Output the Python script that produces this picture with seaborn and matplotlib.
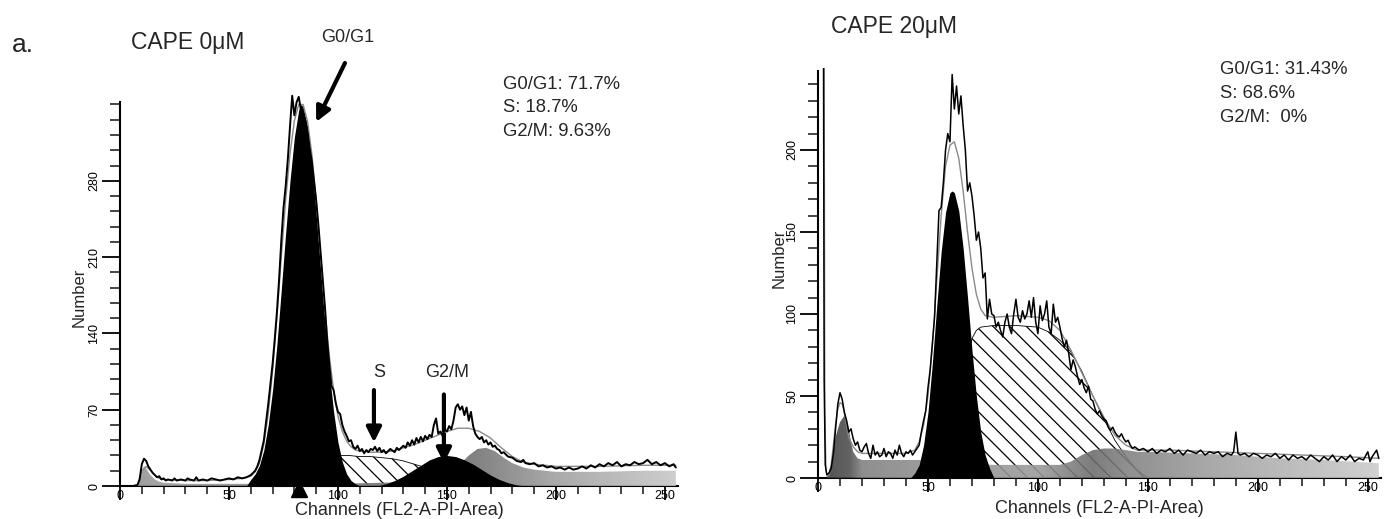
import numpy as np
import pandas as pd
import matplotlib
matplotlib.use("Agg")
import matplotlib.pyplot as plt
import seaborn as sns
from matplotlib.ticker import FixedLocator

# ---------------- data (channel, count) ----------------
left_observed = [(0,0),(2,0),(4,0),(6,0),(8,1),(9,6),(10,20),(11,25),(12,23),(13,18),(14,15),(15,12),(16,10),(17,8),(18,9),(19,6),(20,7),(21,5),(22,6),(24,5),(25,7),(26,5),(28,6),(30,5),(31,7),(32,6),(34,5),(35,8),(36,5),(38,6),(40,5),(42,7),(44,6),(46,5),(48,6),(50,7),(52,6),(54,8),(56,7),(58,8),(60,10),(62,14),(63,18),(64,24),(66,42),(68,75),(70,112),(71,135),(72,160),(73,190),(74,225),(75,255),(76,275),(77,300),(78,330),(79,358),(80,340),(81,352),(82,357),(83,345),(84,340),(85,335),(86,325),(87,310),(88,298),(89,280),(90,262),(91,240),(92,215),(93,190),(94,165),(95,135),(96,112),(97,92),(98,88),(99,76),(100,68),(101,66),(102,56),(103,50),(104,46),(105,41),(106,42),(107,36),(108,34),(109,37),(110,32),(111,34),(112,30),(113,33),(114,31),(115,34),(116,33),(117,36),(118,32),(119,35),(120,31),(121,33),(122,30),(124,34),(126,31),(127,35),(128,33),(130,37),(131,35),(132,40),(133,37),(134,42),(135,38),(136,44),(137,40),(138,45),(139,41),(140,46),(141,43),(142,47),(143,45),(144,56),(145,62),(146,48),(147,50),(148,46),(149,52),(150,50),(151,55),(152,52),(153,60),(154,72),(155,75),(156,70),(157,73),(158,65),(159,72),(160,60),(161,68),(162,55),(163,48),(164,45),(165,43),(166,45),(167,40),(168,42),(169,38),(170,40),(171,36),(172,37),(173,34),(174,33),(175,30),(176,31),(178,27),(180,26),(182,23),(184,22),(185,24),(186,21),(188,20),(190,21),(192,18),(194,19),(196,17),(198,18),(200,16),(202,17),(204,15),(206,17),(208,15),(210,16),(212,18),(214,16),(216,19),(218,17),(220,20),(222,18),(224,21),(226,19),(228,22),(230,18),(232,20),(234,19),(236,22),(238,20),(240,21),(242,24),(244,20),(246,22),(248,19),(250,21),(252,18),(254,20),(255,17)]
left_fit = [(8,0),(10,14),(12,18),(14,14),(16,10),(18,7),(20,6),(30,5),(40,5),(50,6),(56,7),(60,9),(62,13),(64,21),(66,38),(68,66),(70,105),(72,155),(74,210),(76,262),(78,305),(80,335),(82,350),(84,350),(86,335),(88,305),(90,262),(92,212),(94,162),(96,120),(98,88),(100,64),(102,50),(104,41),(106,36),(108,33),(110,32),(115,31),(120,31),(125,32),(130,35),(135,38),(140,42),(145,46),(150,50),(155,53),(160,53),(165,50),(170,44),(175,35),(180,27),(185,22),(190,20),(200,18),(220,18),(240,19),(255,19)]
left_g1 = [(58,0),(60,6),(62,11),(64,19),(66,33),(68,56),(70,88),(72,130),(74,180),(76,232),(78,280),(80,320),(82,345),(83,350),(84,348),(86,330),(88,295),(90,250),(92,200),(94,150),(96,105),(98,68),(100,40),(102,22),(104,11),(106,5),(108,2),(110,0)]
left_s = [(84,0),(88,15),(92,24),(96,27),(100,28),(105,28),(110,27),(115,27),(120,26),(125,25),(130,23),(135,20),(140,17),(145,13),(150,9),(155,6),(160,3),(165,0)]
left_g2 = [(118,0),(122,2),(126,5),(130,9),(134,14),(138,19),(142,24),(146,27),(150,28),(154,27),(158,24),(162,20),(166,15),(170,10),(174,6),(178,3),(182,1),(186,0)]
left_debris = [(8,0),(9,4),(10,12),(11,18),(12,16),(14,10),(16,6),(18,4),(20,3),(30,2),(60,2),(100,2),(140,4),(150,10),(155,18),(160,28),(164,34),(168,35),(172,32),(176,26),(180,21),(185,17),(190,15),(200,13),(220,13),(240,14),(255,14)]

right_observed = [(2.3,400),(2.8,60),(3.3,8),(4,2),(5,3),(6,6),(7,15),(8,30),(9,45),(10,52),(11,48),(12,40),(13,35),(14,28),(15,30),(16,24),(17,20),(18,22),(19,17),(20,16),(21,19),(22,21),(23,15),(24,12),(25,20),(26,14),(27,16),(28,13),(29,14),(30,18),(31,13),(32,16),(33,15),(34,12),(35,17),(36,14),(37,20),(38,15),(39,13),(40,16),(41,15),(42,17),(43,14),(44,16),(45,18),(46,20),(47,28),(48,35),(49,41),(50,55),(51,66),(52,82),(53,98),(54,130),(55,163),(56,165),(57,180),(58,200),(59,210),(60,205),(61,246),(62,225),(63,239),(64,222),(65,233),(66,215),(67,200),(68,175),(69,180),(70,172),(71,160),(72,145),(73,150),(74,140),(75,122),(76,125),(77,97),(78,109),(79,100),(80,99),(81,92),(82,95),(83,90),(84,86),(85,95),(86,100),(87,92),(88,88),(89,100),(90,109),(91,98),(92,95),(93,102),(94,97),(95,100),(96,108),(97,98),(98,110),(99,95),(100,88),(101,105),(102,96),(103,100),(104,108),(105,92),(106,88),(107,106),(108,95),(109,98),(110,92),(111,85),(112,80),(113,84),(114,76),(115,66),(116,72),(117,68),(118,62),(119,57),(120,60),(121,55),(122,52),(123,56),(124,48),(125,47),(126,42),(127,39),(128,41),(129,38),(130,36),(131,35),(132,31),(133,29),(134,31),(135,28),(136,26),(137,25),(138,27),(139,24),(140,22),(141,23),(142,20),(143,18),(144,19),(146,17),(148,18),(150,16),(152,18),(154,15),(156,17),(158,16),(160,18),(162,15),(164,17),(166,14),(168,17),(170,16),(172,15),(174,17),(176,14),(178,16),(180,15),(182,16),(184,13),(186,15),(188,14),(189,16),(190,28),(191,15),(192,14),(194,15),(196,13),(198,15),(200,14),(202,12),(204,14),(206,13),(208,15),(210,12),(212,14),(214,11),(216,14),(218,12),(220,13),(222,11),(224,14),(226,12),(228,10),(230,13),(232,11),(234,14),(236,10),(238,13),(240,11),(242,14),(244,10),(246,12),(248,11),(250,16),(251,10),(252,13),(254,17),(255,12)]
right_fit = [(2.6,400),(3.1,40),(3.6,5),(4.2,1),(5,2),(6,8),(7,20),(8,33),(9,42),(10,46),(11,45),(12,40),(13,32),(14,25),(16,19),(18,16),(20,15),(30,15),(40,15),(44,17),(46,22),(48,32),(50,50),(52,80),(54,120),(56,160),(58,190),(60,203),(62,205),(64,195),(66,175),(68,150),(70,128),(72,112),(74,103),(76,99),(80,98),(90,99),(100,98),(105,96),(110,90),(115,78),(120,64),(125,50),(130,37),(135,26),(140,20),(145,17),(160,17),(180,16),(200,15),(220,14),(240,13),(255,12)]
right_g1 = [(42,0),(44,3),(46,8),(48,20),(50,40),(52,70),(54,105),(56,138),(58,162),(60,174),(61,175),(62,174),(64,163),(66,140),(68,110),(70,78),(72,50),(74,28),(76,14),(78,6),(80,0)]
right_s = [(60,0),(64,20),(66,45),(68,70),(70,85),(72,90),(74,92),(80,93),(90,93),(100,92),(105,89),(110,84),(115,77),(120,65),(125,50),(130,36),(135,23),(140,13),(145,5),(150,0)]
right_debris = [(4,0),(6,8),(8,25),(10,34),(12,38),(13,36),(14,30),(15,22),(16,16),(18,12),(20,11),(30,11),(40,11),(46,11),(50,10),(60,9),(80,8),(100,8),(110,8),(115,10),(120,14),(125,17),(130,18),(135,18),(140,17),(145,16),(150,16),(170,15),(190,14),(210,12),(230,11),(255,9)]

x_major = [0, 50, 100, 150, 200, 250]
left_y_major = [0, 70, 140, 210, 280]
right_y_major = [0, 50, 100, 150, 200]

titles = ["CAPE 0\u03bcM", "CAPE 20\u03bcM"]
left_stats = ["G0/G1: 71.7%", "S: 18.7%", "G2/M: 9.63%"]
right_stats = ["G0/G1: 31.43%", "S: 68.6%", "G2/M:  0%"]

# ---------------- style ----------------
sns.set_style("ticks")
plt.rcParams["font.family"] = ["Liberation Sans", "DejaVu Sans"]
plt.rcParams["hatch.linewidth"] = 0.9
plt.rcParams["hatch.color"] = "black"

W, H = 1386, 519
fig = plt.figure(figsize=(W / 100, H / 100), dpi=100)
fig.patch.set_facecolor("white")
axL = fig.add_axes([120 / W, 1 - 486 / H, 558 / W, (486 - 91.4) / H])
axR = fig.add_axes([818 / W, 1 - 478 / H, 563 / W, 410 / H])


def xy(pts):
    return [p[0] for p in pts], [p[1] for p in pts]


def gray_fill(ax, pts, stops, ymax, z):
    x, y = xy(pts)
    poly = ax.fill_between(x, 0, y, facecolor="none", edgecolor="none", zorder=z)
    xs = np.linspace(0, 256, 600)
    lv = np.interp(xs, [s[0] for s in stops], [s[1] for s in stops])
    img = np.tile(lv, (2, 1))
    im = ax.imshow(img, extent=[0, 256, 0, ymax], aspect="auto", cmap="gray",
                   vmin=0, vmax=1, origin="lower", zorder=z, alpha=0.88,
                   interpolation="bilinear")
    im.set_clip_path(poly.get_paths()[0], transform=ax.transData)


def panel(ax, obs, fit, g1, s, g2, debris, stops, ymax, ytop, y_major, y_minor, lw_obs):
    x, y = xy(s)
    ax.fill_between(x, 0, y, facecolor="white", edgecolor="black", hatch="\\\\",
                    linewidth=0.6, zorder=2)
    gray_fill(ax, debris, stops, ymax, 3)
    if g2:
        x, y = xy(g2)
        ax.fill_between(x, 0, y, color="black", linewidth=0, zorder=4)
    x, y = xy(g1)
    ax.fill_between(x, 0, y, color="black", linewidth=0, zorder=4)
    dfit = pd.DataFrame(fit, columns=["ch", "n"])
    sns.lineplot(data=dfit, x="ch", y="n", ax=ax, color="#8a8a8a", lw=1.0,
                 estimator=None, sort=False, zorder=5)
    dobs = pd.DataFrame(obs, columns=["ch", "n"])
    sns.lineplot(data=dobs, x="ch", y="n", ax=ax, color="black", lw=lw_obs,
                 estimator=None, sort=False, zorder=6)

    ax.set_xlim(0, 256)
    ax.set_ylim(0, ymax)
    ax.spines["top"].set_visible(False)
    ax.spines["right"].set_visible(False)
    for sp in ("left", "bottom"):
        ax.spines[sp].set_linewidth(1.5)
        ax.spines[sp].set_color("black")
    ax.spines["left"].set_bounds(0, ytop)
    ax.spines["bottom"].set_bounds(0, 256)
    ax.xaxis.set_major_locator(FixedLocator(x_major))
    ax.xaxis.set_minor_locator(FixedLocator(list(range(0, 256, 10))))
    ax.yaxis.set_major_locator(FixedLocator(y_major))
    ax.yaxis.set_minor_locator(FixedLocator(y_minor))
    ax.tick_params(axis="both", which="major", direction="out", width=1.3,
                   color="black", labelsize=9, labelcolor="black")
    ax.tick_params(axis="x", which="major", length=10, pad=-7)
    ax.tick_params(axis="x", which="minor", length=6, width=1.2, direction="out")
    ax.tick_params(axis="y", which="major", length=13, pad=1, labelrotation=90)
    ax.tick_params(axis="y", which="minor", length=7, width=1.2, direction="out")
    for lab in ax.get_yticklabels():
        lab.set_va("center")
    ax.set_facecolor("white")
    ax.patch.set_alpha(0)


panel(axL, left_observed, left_fit, left_g1, left_s, left_g2, left_debris,
      [(0, 0.55), (20, 0.6), (140, 0.42), (165, 0.45), (200, 0.62), (256, 0.78)],
      362, 352, left_y_major, list(range(0, 351, 14)), 1.4)
panel(axR, right_observed, right_fit, right_g1, right_s, None, right_debris,
      [(0, 0.22), (14, 0.3), (20, 0.5), (45, 0.55), (100, 0.6), (125, 0.42),
       (140, 0.5), (180, 0.62), (256, 0.8)],
      250, 248, right_y_major, list(range(0, 241, 10)), 1.1)

# axis labels
for ax, xl_y, yl_x, yl_y in ((axL, -0.0405, -0.0735, 0.479), (axR, -0.0537, -0.0693, 0.537)):
    ax.set_xlabel("Channels (FL2-A-PI-Area)", fontsize=13)
    ax.xaxis.set_label_coords(0.5, xl_y)
    ax.set_ylabel("Number", fontsize=12)
    ax.yaxis.set_label_coords(yl_x, yl_y)
    ax.yaxis.label.set_va("center")

# G1 marker triangle under left axis
axL.plot([82], [-2.7], marker="^", color="black", markersize=11, clip_on=False, zorder=7)

# annotations on the left panel
arrow = dict(arrowstyle="-|>", lw=3, color="black", mutation_scale=22,
             shrinkA=0, shrinkB=0)
axL.annotate("", xy=(90, 334), xytext=(103.2, 388), arrowprops=arrow,
             annotation_clip=False)
axL.text(104.6, 411, "G0/G1", fontsize=13, ha="center", va="center", clip_on=False)
axL.annotate("", xy=(116.5, 40), xytext=(116.5, 88), arrowprops=arrow,
             annotation_clip=False)
axL.text(118.8, 104, "S", fontsize=13, ha="center", va="center")
axL.annotate("", xy=(148.6, 21), xytext=(148.6, 84), arrowprops=arrow,
             annotation_clip=False)
axL.text(150, 104, "G2/M", fontsize=13, ha="center", va="center")

# figure texts
fig.text(22.6 / W, 1 - 45 / H, "a.", fontsize=19, ha="center", va="center")
fig.text(131 / W, 1 - 42 / H, titles[0], fontsize=16.5, ha="left", va="center")
fig.text(831 / W, 1 - 27 / H, titles[1], fontsize=16.5, ha="left", va="center")
for txt, yy in zip(left_stats, (85, 108, 132)):
    fig.text(503 / W, 1 - yy / H, txt, fontsize=13.3, ha="left", va="center")
for txt, yy in zip(right_stats, (70, 93, 117)):
    fig.text(1220 / W, 1 - yy / H, txt, fontsize=13.3, ha="left", va="center")

fig.savefig("out.png", dpi=100, facecolor="white")
